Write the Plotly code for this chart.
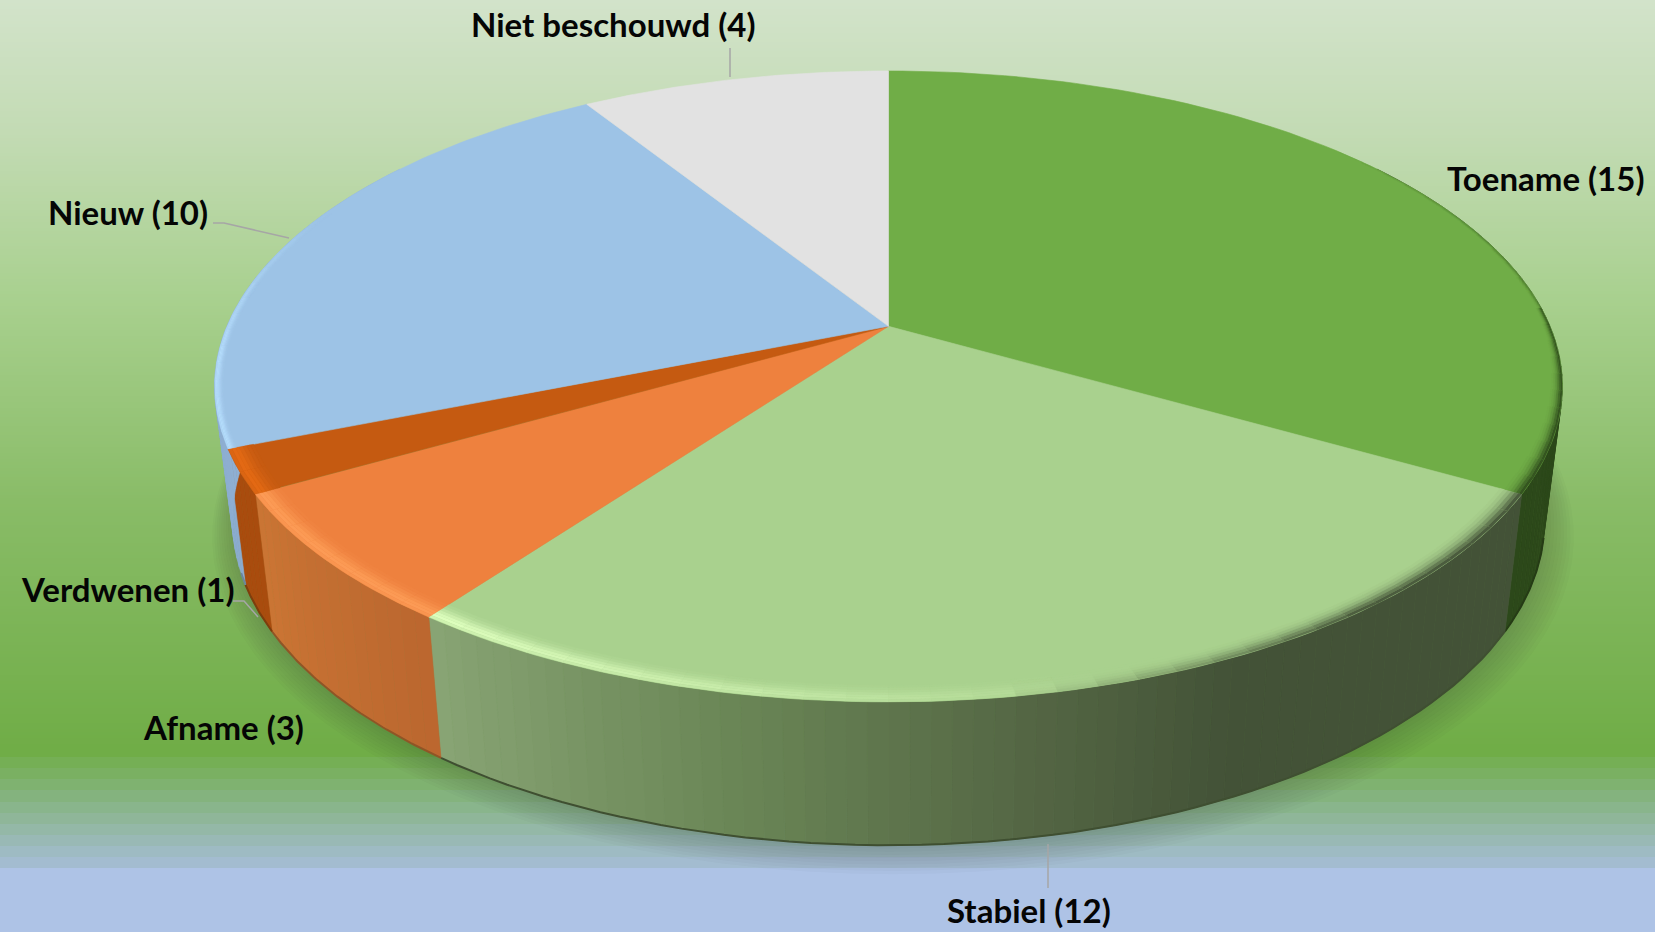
import math
import plotly.graph_objects as go

# ---- data
categories = ["Toename", "Stabiel", "Afname", "Verdwenen", "Nieuw", "Niet beschouwd"]
values = [15, 12, 3, 1, 10, 4]

# ---- styles
top_colors = [(112,173,71), (169,209,142), (238,129,62), (197,90,17), (157,195,230), (226,226,226)]
wall_stops = [
    [(0,(44,72,26)), (1,(44,72,26))],
    [(0,(67,82,55)), (0.36,(67,82,55)), (0.52,(84,102,68)), (0.74,(106,134,86)), (1,(137,165,117))],
    [(0,(187,103,47)), (1,(203,117,52))],
    [(0,(169,76,14)), (1,(169,76,14))],
    [(0,(140,172,208)), (1,(150,185,220))],
    [(0,(180,180,180)), (1,(180,180,180))],
]
rim_light = [None, (222,255,190), (255,160,90), (232,108,20), (184,224,255), None]
label_pos = [(1545,178), (1029,910), (223,727), (127,589), (128,212), (613,24)]
leaders = {
    "Niet beschouwd": [(730,48),(730,77)],
    "Nieuw": [(213,223),(224,223),(289,238)],
    "Verdwenen": [(233,601),(244,601),(258,617)],
    "Stabiel": [(1048,844),(1048,888)],
}
bg_stops = [(0,(210,227,202)), (130,(195,219,180)), (300,(168,208,142)), (500,(137,188,103)), (746,(112,173,71))]
band_stops = [(746,(112,173,71)), (868,(168,190,222))]
bottom_color = (174,195,230)

W, H = 1655, 932
CX, CY, A, B, K = 888.5, 326.3, 661.5, 304.0, 0.1906
BX, BCY, BA, BB = 888.5, 458.5, 644.0, 313.0


def top_pt(deg, r=1.0):
    t = math.radians(deg)
    u, v = r * math.sin(t), -r * math.cos(t)
    d = 1 - K * v
    return CX + A * u / d, CY + B * v / d


def bot_pt(deg, scale=1.0, dy=0.0, dx=0.0):
    t = math.radians(deg)
    u, v = math.sin(t), -math.cos(t)
    d = 1 - K * v
    return BX + dx + scale * BA * u / d, BCY + dy + scale * BB * v / d


def lerp(c1, c2, f):
    f = max(0.0, min(1.0, f))
    return tuple(c1[i] + (c2[i] - c1[i]) * f for i in range(3))


def css(c, a=None):
    r, g, b = [int(round(x)) for x in c]
    return f"rgb({r},{g},{b})" if a is None else f"rgba({r},{g},{b},{a})"


def interp(stops, p):
    for (p1, c1), (p2, c2) in zip(stops, stops[1:]):
        if p <= p2:
            return lerp(c1, c2, (p - p1) / (p2 - p1) if p2 > p1 else 0)
    return stops[-1][1]


fig = go.Figure()


def poly(pts, color, line=0.6):
    xs, ys = zip(*pts)
    fig.add_trace(go.Scatter(x=list(xs) + [xs[0]], y=list(ys) + [ys[0]], mode="lines", fill="toself",
                             fillcolor=color, line=dict(color=color, width=line), hoverinfo="skip", showlegend=False))


# ---- background
edges = []
y = 0
while y < 746:
    edges.append(y); y += 3
y = 746
while y < 868:
    edges.append(y); y += 11.1
edges.append(868)
edges.append(932)
scale = []
for e in edges[:-1]:
    if e < 746:
        c = interp(bg_stops, e)
    elif e < 868:
        c = interp(band_stops, e)
    else:
        c = bottom_color
    scale.append(c)
n = len(scale)
colorscale = []
for i, c in enumerate(scale):
    colorscale.append([i / n, css(c)])
    colorscale.append([(i + 1) / n, css(c)])
fig.add_trace(go.Heatmap(z=[[i + 0.5] for i in range(n)], x=[0, W], y=edges, zmin=0, zmax=n,
                         colorscale=colorscale, showscale=False, hoverinfo="skip", zsmooth=False))

# ---- soft shadow under the pie
for i in range(9, 0, -1):
    f = 1 + 0.0042 * i
    pts = [bot_pt(a, f, 1.6 * i, 0.5 * i) for a in range(0, 360, 3)]
    poly(pts, "rgba(40,50,40,0.024)", line=0)

# ---- slices
total = sum(values)
angles = [0]
for v in values:
    angles.append(angles[-1] + v / total * 360)

# walls
for i in range(len(values)):
    a0, a1 = angles[i], angles[i + 1]
    lo, hi = max(a0, 55), min(a1, 305)
    if lo >= hi:
        continue
    steps = max(2, int((hi - lo) / 1.5))
    for s in range(steps):
        p, q = lo + (hi - lo) * s / steps, lo + (hi - lo) * (s + 1) / steps
        f = ((p + q) / 2 - a0) / (a1 - a0)
        c = interp(wall_stops[i], f)
        poly([top_pt(p), top_pt(q), bot_pt(q), bot_pt(p)], css(c))
    # darker seam at the lower edge, only where the lower rim is the outline
    slo, shi = max(lo, 104), min(hi, 250)
    if slo < shi:
        xs, ys = zip(*[bot_pt(slo + (shi - slo) * s / 60) for s in range(61)])
        base = interp(wall_stops[i], 0.5)
        fig.add_trace(go.Scatter(x=xs, y=ys, mode="lines", line=dict(color=css(lerp(base, (20, 30, 10), 0.3)), width=2),
                                 hoverinfo="skip", showlegend=False))

# tops
for i in range(len(values)):
    a0, a1 = angles[i], angles[i + 1]
    pts = [(CX, CY)] + [top_pt(a0 + (a1 - a0) * s / 80) for s in range(81)]
    poly(pts, css(top_colors[i]))

# bevel of the rim
light_profile = [0.08, 0.2, 0.4, 0.65, 0.9, 1.0, 0.75]
dark_profile = [0.0, 0.03, 0.1, 0.22, 0.42, 0.68, 0.92]
for i in range(len(values)):
    a0, a1 = angles[i], angles[i + 1]
    lo, hi = max(a0, 50), min(a1, 300)
    if lo >= hi:
        continue
    steps = max(2, int((hi - lo) / 3))
    for s in range(steps):
        p, q = lo + (hi - lo) * s / steps, lo + (hi - lo) * (s + 1) / steps
        m = (p + q) / 2
        light = 0.0
        dark = 0.0
        width = 0.036
        if rim_light[i] is not None:
            if i == 1:
                light = max(0.0, (m - 160) / 56)
            elif i == 4:
                light = max(0.0, min(1.0, (295 - m) / 30)) * 0.9
                width = 0.012
            else:
                light = 0.85
        if i == 0:
            dark = 0.95 * min(1.0, (m - 50) / 30)
            width = 0.008 + 0.022 * max(0.0, (m - 85) / 35)
        if i == 1:
            dark = max(0.0, min(1.0, (172 - m) / 30))
        wall = interp(wall_stops[i], (m - a0) / (a1 - a0))
        radii = [1 - width * (1 - j / 7) for j in range(8)]
        for b in range(7):
            c = top_colors[i]
            if light > 0:
                c = lerp(c, rim_light[i], light * light_profile[b])
            if dark > 0:
                c = lerp(c, wall, dark * dark_profile[b])
            if c == top_colors[i]:
                continue
            poly([top_pt(p, radii[b]), top_pt(q, radii[b]), top_pt(q, radii[b + 1]), top_pt(p, radii[b + 1])],
                 css(c), line=0.2)

# ---- leader lines
for name, pts in leaders.items():
    xs, ys = zip(*pts)
    fig.add_trace(go.Scatter(x=xs, y=ys, mode="lines", line=dict(color="#a6a6a6", width=1.5),
                             hoverinfo="skip", showlegend=False))

# ---- labels
for name, val, (lx, ly) in zip(categories, values, label_pos):
    fig.add_annotation(x=lx, y=ly, text=f"<b>{name} ({val})</b>", showarrow=False, xanchor="center", yanchor="middle",
                       font=dict(family="Lato, Noto Sans, sans-serif", size=33, color="#050505"))

fig.update_layout(width=W, height=H, margin=dict(l=0, r=0, t=0, b=0), showlegend=False,
                  paper_bgcolor="#ffffff", plot_bgcolor="#ffffff",
                  xaxis=dict(range=[0, W], visible=False, fixedrange=True),
                  yaxis=dict(range=[H, 0], visible=False, fixedrange=True))
fig.write_html("out.html", config=dict(displayModeBar=False),
               post_script="document.body.style.margin='0';document.body.style.overflow='hidden';")
